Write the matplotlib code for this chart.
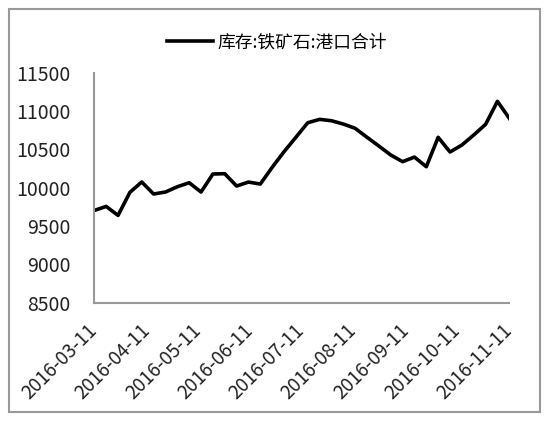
import numpy as np
import pandas as pd
import matplotlib
matplotlib.use("Agg")
import matplotlib.pyplot as plt
import matplotlib.dates as mdates
from matplotlib.patches import Rectangle

plt.rcParams['font.family'] = ['Noto Sans CJK SC', 'DejaVu Sans']

# weekly port iron ore inventory (10k tonnes)
dates = pd.date_range("2016-03-11", "2016-11-11", freq="7D")
stock = [9704, 9756, 9639, 9940, 10075, 9918, 9944, 10013, 10065, 9944,
         10179, 10183, 10022, 10074, 10048, 10266, 10470, 10658, 10848, 10892,
         10874, 10831, 10775, 10658, 10544, 10427, 10340, 10400, 10274, 10658,
         10466, 10557, 10688, 10827, 11127, 10905]
series_name = "库存:铁矿石:港口合计"
tick_dates = pd.to_datetime(["2016-03-11", "2016-04-11", "2016-05-11", "2016-06-11",
                             "2016-07-11", "2016-08-11", "2016-09-11", "2016-10-11",
                             "2016-11-11"])
yticks = [8500, 9000, 9500, 10000, 10500, 11000, 11500]

fig = plt.figure(figsize=(5.5, 4.23), dpi=100)
ax = fig.add_axes([0.1715, 0.2844, 0.7545, 0.5436])

ax.plot(dates, stock, color='black', lw=2.6, label=series_name)

ax.set_xlim(tick_dates[0], tick_dates[-1])
ax.set_ylim(8500, 11500)
ax.set_yticks(yticks)
ax.set_xticks(tick_dates)
ax.set_xticklabels([d.strftime("%Y-%m-%d") for d in tick_dates],
                   rotation=45, ha='right', va='center', rotation_mode='anchor')
ax.tick_params(axis='both', length=0, colors='#222222')
ax.tick_params(axis='x', pad=18, labelsize=13.6)
ax.tick_params(axis='y', pad=17, labelsize=14)

for s in ['top', 'right']:
    ax.spines[s].set_visible(False)
for s in ['left', 'bottom']:
    ax.spines[s].set_color('#999999')
    ax.spines[s].set_linewidth(1.5)

leg = fig.legend(loc='center', bbox_to_anchor=(0.504, 0.9), frameon=False,
                 fontsize=12.8, handlelength=2.6, handletextpad=0.25)

fig.patches.append(Rectangle((0.0164, 0.026), 0.9655, 0.9527, transform=fig.transFigure,
                             fill=False, edgecolor='#999999', lw=1.5))

fig.savefig("out.png", dpi=100)
